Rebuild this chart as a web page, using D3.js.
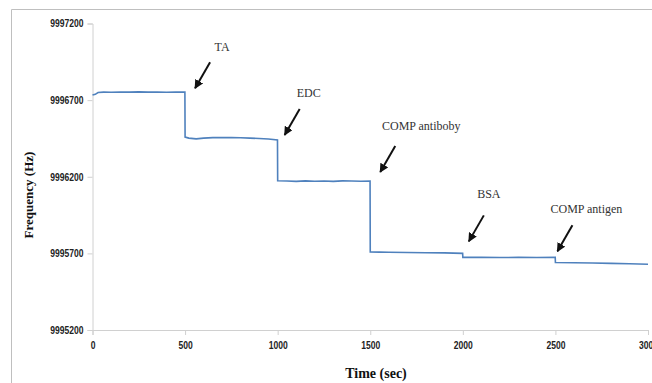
<!DOCTYPE html>
<meta charset="utf-8">
<script src="https://d3js.org/d3.v7.min.js"></script>
<style>
  body { margin: 0; background: #fff; }
</style>
<svg id="chart" width="652" height="383"></svg>
<script>

// trace (time in sec, frequency in Hz)
var times = [0, 15, 30, 60, 100, 150, 200, 250, 300, 350, 400, 450, 499,
             500, 520, 560, 600, 650, 700, 750, 800, 850, 900, 950, 999,
             1000, 1050, 1100, 1150, 1200, 1250, 1300, 1350, 1400, 1450, 1499,
             1500, 1550, 1600, 1700, 1800, 1900, 1999,
             2000, 2100, 2200, 2300, 2400, 2499,
             2500, 2600, 2700, 2800, 2900, 3000];
var freqs = [9996733, 9996738, 9996750, 9996752, 9996751, 9996753, 9996752, 9996754, 9996752, 9996753, 9996751, 9996752, 9996752,
             9996459, 9996452, 9996447, 9996452, 9996455, 9996456, 9996455, 9996454, 9996452, 9996450, 9996446, 9996440,
             9996174, 9996172, 9996170, 9996173, 9996171, 9996172, 9996170, 9996173, 9996172, 9996171, 9996172,
             9995709, 9995708, 9995707, 9995706, 9995704, 9995703, 9995700,
             9995674, 9995674, 9995673, 9995674, 9995673, 9995674,
             9995640, 9995639, 9995637, 9995635, 9995632, 9995629];

var xTicks = [0, 500, 1000, 1500, 2000, 2500, 3000];
var yTicks = [9995200, 9995700, 9996200, 9996700, 9997200];

// annotations: label and the step it points at
var labels = ["TA", "EDC", "COMP antiboby", "BSA", "COMP antigen"];
var labelTimes = [500, 1000, 1500, 2000, 2500];
var labelFreqs = [9996752, 9996440, 9996172, 9995700, 9995674];

var svg = d3.select("#chart");
var width = +svg.attr("width"),
    height = +svg.attr("height");

// outer frame like the pasted excel chart
svg.append("path")
  .attr("d", "M11.5," + (height + 5) + "V9.5H" + (width + 5))
  .attr("fill", "none")
  .attr("stroke", "#bfbfbf")
  .attr("stroke-width", 1);

var x = d3.scaleLinear()
  .domain([0, 3000])
  .range([92.5, 648]);

var y = d3.scaleLinear()
  .domain([9995200, 9997200])
  .range([330, 23.5]);

var tickFont = "'Liberation Sans', Arial, sans-serif";

// condensed look of the calibri tick labels
function squeeze(sel) {
  sel.attr("fill", "#222")
    .style("font-family", tickFont)
    .style("font-weight", "bold")
    .style("font-size", "10.5px")
    .attr("lengthAdjust", "spacingAndGlyphs")
    .attr("textLength", function () { return this.textContent.length * 4.75; });
}

// y axis
var yAxis = svg.append("g")
  .attr("transform", "translate(" + x(0) + ",0)")
  .call(d3.axisLeft(y).tickValues(yTicks).tickSize(5).tickPadding(4).tickFormat(d3.format("d")));
yAxis.select(".domain").attr("stroke", "#d0d0d0");
yAxis.selectAll(".tick line").attr("stroke", "#d0d0d0");
yAxis.selectAll("text").call(squeeze);

// x axis
var xAxis = svg.append("g")
  .attr("transform", "translate(0," + y(9995200) + ")")
  .call(d3.axisBottom(x).tickValues(xTicks).tickSize(5).tickPadding(7).tickFormat(d3.format("d")));
xAxis.select(".domain").attr("stroke", "#d0d0d0");
xAxis.selectAll(".tick line").attr("stroke", "#d0d0d0");
xAxis.selectAll("text").call(squeeze);

// axis titles
svg.append("text")
  .attr("x", 376)
  .attr("y", 378)
  .attr("text-anchor", "middle")
  .style("font-family", "'Liberation Serif', 'Times New Roman', serif")
  .style("font-weight", "bold")
  .style("font-size", "14px")
  .attr("fill", "#111")
  .text("Time (sec)");

svg.append("text")
  .attr("transform", "translate(33,195) rotate(-90)")
  .attr("text-anchor", "middle")
  .style("font-family", "'Liberation Serif', 'Times New Roman', serif")
  .style("font-weight", "bold")
  .style("font-size", "13px")
  .attr("fill", "#111")
  .text("Frequency (Hz)");

// the trace
var points = times.map(function (t, i) { return [t, freqs[i]]; });
var line = d3.line()
  .x(function (d) { return x(d[0]); })
  .y(function (d) { return y(d[1]); });

svg.append("path")
  .datum(points)
  .attr("d", line)
  .attr("fill", "none")
  .attr("stroke", "#4f81bd")
  .attr("stroke-width", 1.6);

// arrows
var defs = svg.append("defs");
defs.append("marker")
  .attr("id", "head")
  .attr("viewBox", "0 0 10 10")
  .attr("refX", 9)
  .attr("refY", 5)
  .attr("markerWidth", 4.5)
  .attr("markerHeight", 4.5)
  .attr("orient", "auto")
  .append("path")
  .attr("d", "M0,0L10,5L0,10z")
  .attr("fill", "#111");

// offsets of arrow tip and text from the step point
var tipDx = [10, 7, 10, 6, 2];
var tipDy = [-4, -5, -9, -12, -6];
var textDx = [37, 31, 51, 26, 31];
var textDy = [-45, -47, -55, -59, -48];

labels.forEach(function (lab, i) {
  var px = x(labelTimes[i]), py = y(labelFreqs[i]);
  var tx = px + tipDx[i], ty = py + tipDy[i];
  svg.append("line")
    .attr("x1", tx + 15)
    .attr("y1", ty - 26)
    .attr("x2", tx)
    .attr("y2", ty)
    .attr("stroke", "#111")
    .attr("stroke-width", 2)
    .attr("marker-end", "url(#head)");
  svg.append("text")
    .attr("x", px + textDx[i])
    .attr("y", py + textDy[i] + 4)
    .attr("text-anchor", "middle")
    .style("font-family", "'Liberation Serif', 'Times New Roman', serif")
    .style("font-size", "12px")
    .attr("fill", "#333")
    .text(lab);
});

</script>
